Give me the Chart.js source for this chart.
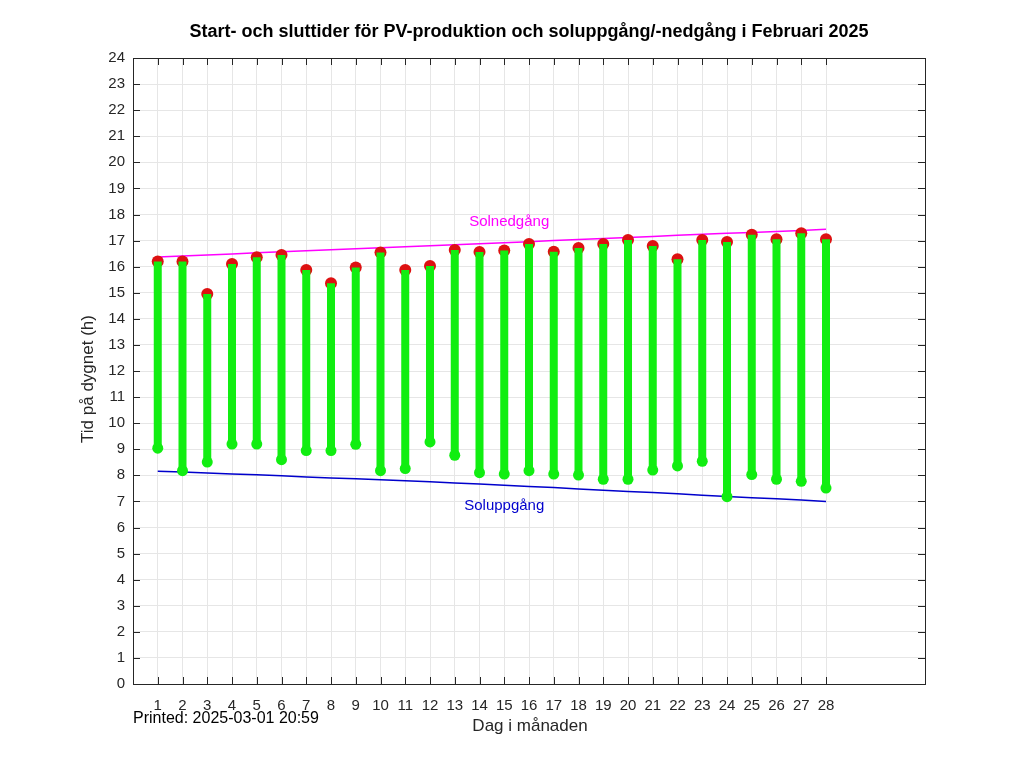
<!DOCTYPE html>
<html>
<head>
<meta charset="utf-8">
<script src="https://cdn.jsdelivr.net/npm/chart.js@4.4.1/dist/chart.umd.min.js"></script>
<style>
  html, body { margin: 0; padding: 0; background: #ffffff; }
  #c { display: block; }
</style>
</head>
<body>
<canvas id="c" width="1024" height="768"></canvas>
<script>
const days = [1,2,3,4,5,6,7,8,9,10,11,12,13,14,15,16,17,18,19,20,21,22,23,24,25,26,27,28];
const startTimes = [9.04,8.18,8.51,9.20,9.20,8.60,8.95,8.95,9.19,8.18,8.26,9.28,8.77,8.10,8.05,8.18,8.05,8.01,7.85,7.85,8.20,8.36,8.54,7.18,8.03,7.85,7.77,7.51];
const endTimes = [16.20,16.20,14.95,16.10,16.36,16.45,15.87,15.36,15.97,16.54,15.87,16.03,16.64,16.56,16.62,16.87,16.57,16.72,16.87,17.02,16.79,16.28,17.02,16.95,17.22,17.05,17.28,17.05];
const sunrise = [8.16,8.13,8.09,8.05,8.02,7.98,7.94,7.90,7.87,7.83,7.79,7.75,7.71,7.67,7.62,7.57,7.53,7.48,7.43,7.38,7.34,7.29,7.24,7.19,7.14,7.10,7.05,7.00];
const sunset = [16.37,16.41,16.45,16.49,16.53,16.57,16.61,16.65,16.69,16.73,16.76,16.80,16.84,16.88,16.92,16.96,17.00,17.04,17.08,17.12,17.16,17.20,17.24,17.28,17.31,17.35,17.39,17.43];

const titleText = 'Start- och sluttider för PV-produktion och soluppgång/-nedgång i Februari 2025';
const yTitle = 'Tid på dygnet (h)';
const xTitle = 'Dag i månaden';
const printedText = 'Printed: 2025-03-01 20:59';
const sunsetLabel = { text: 'Solnedgång', x: 15.2, y: 17.7 };
const sunriseLabel = { text: 'Soluppgång', x: 15.0, y: 6.83 };

const FONT = '"Liberation Sans", Arial, sans-serif';
const TEXT = '#262626';

const segData = [];
days.forEach((d, i) => {
  segData.push({ x: d, y: startTimes[i] });
  segData.push({ x: d, y: endTimes[i] });
  segData.push({ x: d, y: null });
});

const decor = {
  id: 'decor',
  afterDraw(chart) {
    const ctx = chart.ctx;
    const a = chart.chartArea;
    const xs = chart.scales.x, ys = chart.scales.y;
    ctx.save();
    ctx.strokeStyle = TEXT;
    ctx.lineWidth = 1;
    ctx.strokeRect(Math.round(a.left) + 0.5, Math.round(a.top) + 0.5, Math.round(a.right - a.left), Math.round(a.bottom - a.top));
    const L = 7;
    ctx.beginPath();
    xs.ticks.forEach(t => {
      const px = Math.round(xs.getPixelForValue(t.value)) + 0.5;
      ctx.moveTo(px, a.bottom); ctx.lineTo(px, a.bottom - L);
      ctx.moveTo(px, a.top); ctx.lineTo(px, a.top + L);
    });
    ys.ticks.forEach(t => {
      const py = Math.round(ys.getPixelForValue(t.value)) + 0.5;
      ctx.moveTo(a.left, py); ctx.lineTo(a.left + L, py);
      ctx.moveTo(a.right, py); ctx.lineTo(a.right - L, py);
    });
    ctx.stroke();
    ctx.fillStyle = '#000000';
    ctx.textAlign = 'center';
    ctx.textBaseline = 'middle';
    ctx.font = 'bold 18px ' + FONT;
    ctx.fillText(titleText, (a.left + a.right) / 2, 32);
    ctx.fillStyle = TEXT;
    ctx.font = '17px ' + FONT;
    ctx.fillText(xTitle, (a.left + a.right) / 2 + 1, 726);
    ctx.save();
    ctx.translate(88, (a.top + a.bottom) / 2 + 8);
    ctx.rotate(-Math.PI / 2);
    ctx.fillText(yTitle, 0, 0);
    ctx.restore();
    ctx.textAlign = 'left';
    ctx.font = '16px ' + FONT;
    ctx.fillStyle = '#000000';
    ctx.fillText(printedText, a.left, 719);
    ctx.textAlign = 'center';
    ctx.font = '15px ' + FONT;
    ctx.fillStyle = '#ff00ff';
    ctx.fillText(sunsetLabel.text, xs.getPixelForValue(sunsetLabel.x), ys.getPixelForValue(sunsetLabel.y));
    ctx.fillStyle = '#0000cc';
    ctx.fillText(sunriseLabel.text, xs.getPixelForValue(sunriseLabel.x), ys.getPixelForValue(sunriseLabel.y));
    ctx.restore();
  }
};

new Chart(document.getElementById('c'), {
  type: 'line',
  data: {
    datasets: [
      {
        label: 'Start',
        type: 'scatter',
        data: days.map((d, i) => ({ x: d, y: startTimes[i] })),
        pointRadius: 5.5,
        pointBackgroundColor: '#11ee11',
        pointBorderWidth: 0,
        showLine: false,
        order: 1
      },
      {
        label: 'PV',
        data: segData,
        borderColor: '#11ee11',
        borderWidth: 8,
        borderCapStyle: 'butt',
        pointRadius: 0,
        spanGaps: false,
        order: 2
      },
      {
        label: 'Slut',
        type: 'scatter',
        data: days.map((d, i) => ({ x: d, y: endTimes[i] })),
        pointRadius: 6,
        pointBackgroundColor: '#dd1111',
        pointBorderWidth: 0,
        showLine: false,
        order: 3
      },
      {
        label: 'Solnedgång',
        data: days.map((d, i) => ({ x: d, y: sunset[i] })),
        borderColor: '#ff00ff',
        borderWidth: 1.5,
        pointRadius: 0,
        order: 4
      },
      {
        label: 'Soluppgång',
        data: days.map((d, i) => ({ x: d, y: sunrise[i] })),
        borderColor: '#0000cc',
        borderWidth: 1.5,
        pointRadius: 0,
        order: 5
      }
    ]
  },
  options: {
    responsive: false,
    animation: false,
    devicePixelRatio: 1,
    layout: { padding: { top: 58, right: 99, left: 0, bottom: 0 } },
    plugins: { legend: { display: false }, title: { display: false }, tooltip: { enabled: false } },
    scales: {
      x: {
        type: 'linear',
        min: 0,
        max: 32,
        afterBuildTicks: (s) => { s.ticks = days.map(v => ({ value: v })); },
        afterFit: (s) => { s.height = 84; },
        grid: { color: '#e6e6e6', lineWidth: 1, drawTicks: false },
        border: { display: false },
        ticks: { autoSkip: false, maxRotation: 0, padding: 13, color: TEXT, font: { family: FONT, size: 15 }, callback: v => v }
      },
      y: {
        type: 'linear',
        min: 0,
        max: 24,
        afterFit: (s) => { s.width = 133; },
        grid: { color: '#e6e6e6', lineWidth: 1, drawTicks: false },
        border: { display: false },
        ticks: { stepSize: 1, padding: 8, color: TEXT, font: { family: FONT, size: 15 } }
      }
    }
  },
  plugins: [decor]
});
</script>
</body>
</html>
